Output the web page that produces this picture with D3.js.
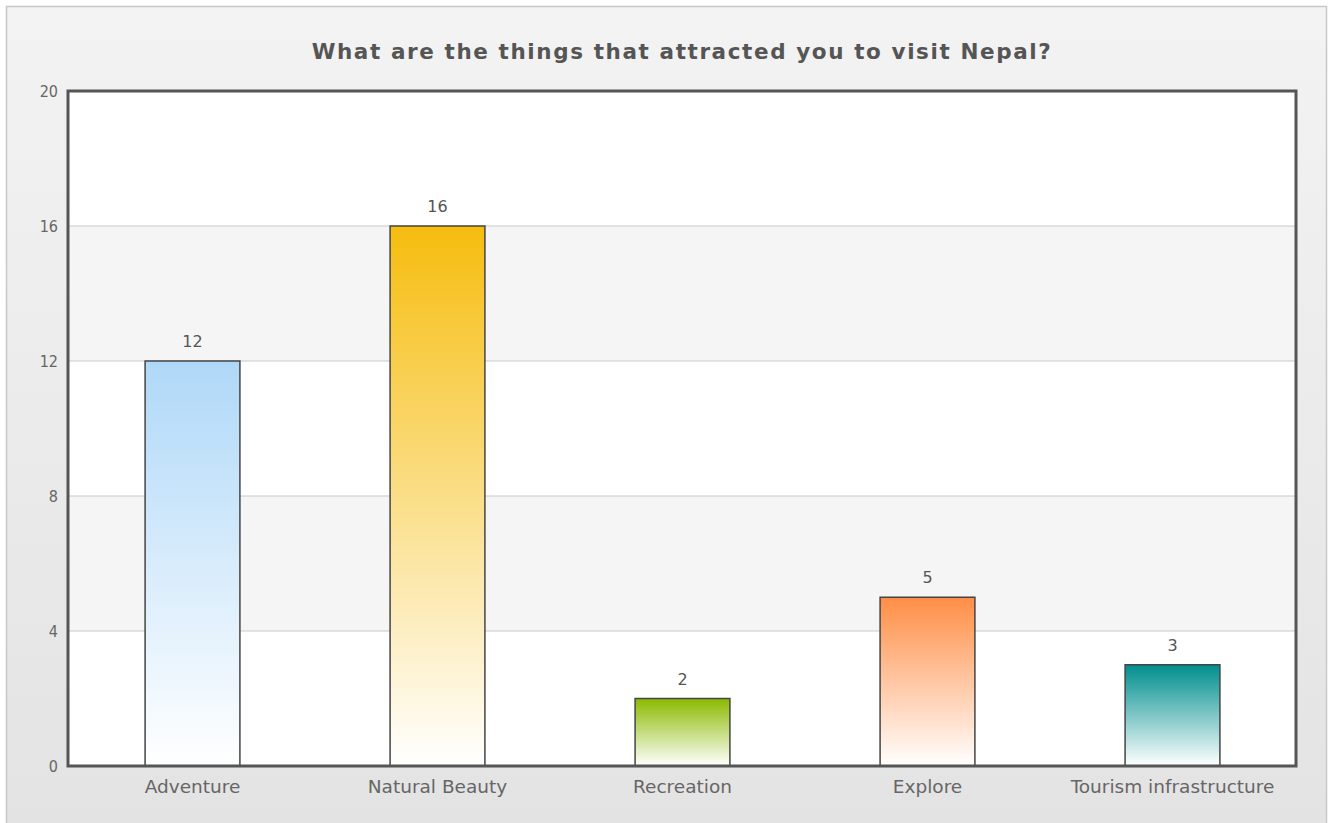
<!DOCTYPE html>
<html>
<head>
<meta charset="utf-8">
<script src="https://cdn.jsdelivr.net/npm/d3@7"></script>
<style>
  html, body { margin: 0; padding: 0; background: #ffffff; }
  svg { display: block; }
</style>
</head>
<body>
<svg id="chart" width="1332" height="823"></svg>
<script>
// Survey answers: reasons for visiting Nepal
const categories = ["Adventure", "Natural Beauty", "Recreation", "Explore", "Tourism infrastructure"];
const responses = [12, 16, 2, 5, 3];
const barColors = ["#AFD8F8", "#F6BD0F", "#8BBA00", "#FF8E46", "#008E8E"];
const yTicks = [0, 4, 8, 12, 16, 20];
const chartTitle = "What are the things that attracted you to visit Nepal?";

const W = 1332, H = 823;
const plot = { left: 68, top: 91, right: 1296, bottom: 766 };

const svg = d3.select("#chart");
const defs = svg.append("defs");

// panel background gradient
const bg = defs.append("linearGradient").attr("id", "bgGrad")
  .attr("x1", 0).attr("y1", 0).attr("x2", 0).attr("y2", 1);
bg.append("stop").attr("offset", "0%").attr("stop-color", "#f3f3f3");
bg.append("stop").attr("offset", "100%").attr("stop-color", "#e3e3e3");

svg.append("rect").attr("x", 0).attr("y", 0).attr("width", W).attr("height", H).attr("fill", "#ffffff");
svg.append("rect")
  .attr("x", 6.5).attr("y", 6.5).attr("width", 1320).attr("height", H)
  .attr("fill", "url(#bgGrad)").attr("stroke", "#c8c8c8").attr("stroke-width", 1.5);

// title
svg.append("text")
  .attr("x", 682).attr("y", 59)
  .attr("text-anchor", "middle")
  .attr("font-family", "'DejaVu Sans', Verdana, sans-serif")
  .attr("font-weight", "bold").attr("font-size", 21.5)
  .attr("letter-spacing", 1.6)
  .attr("fill", "#555555")
  .text(chartTitle);

const x = d3.scaleBand().domain(categories).range([70, 1295]).paddingInner(0.613).paddingOuter(0.3065);
const y = d3.scaleLinear().domain([0, 20]).range([plot.bottom, plot.top]);

// alternating horizontal bands
const g = svg.append("g");
g.append("rect").attr("x", plot.left).attr("y", plot.top)
  .attr("width", plot.right - plot.left).attr("height", plot.bottom - plot.top).attr("fill", "#ffffff");
for (let i = 0; i < yTicks.length - 1; i++) {
  if (i % 2 === 1) {
    g.append("rect")
      .attr("x", plot.left).attr("y", y(yTicks[i + 1]))
      .attr("width", plot.right - plot.left)
      .attr("height", y(yTicks[i]) - y(yTicks[i + 1]))
      .attr("fill", "#f5f5f5");
  }
}

// grid lines
g.selectAll("line.grid").data(yTicks.slice(1, -1)).join("line")
  .attr("class", "grid")
  .attr("x1", plot.left).attr("x2", plot.right)
  .attr("y1", d => y(d)).attr("y2", d => y(d))
  .attr("stroke", "#c9c9c9").attr("stroke-width", 1);

// bar gradients
barColors.forEach((c, i) => {
  const lg = defs.append("linearGradient").attr("id", "barGrad" + i)
    .attr("x1", 0).attr("y1", 0).attr("x2", 0).attr("y2", 1);
  lg.append("stop").attr("offset", "0%").attr("stop-color", c);
  lg.append("stop").attr("offset", "100%").attr("stop-color", "#ffffff");
});

// bars
const data = categories.map((c, i) => ({ cat: c, val: responses[i], idx: i }));
g.selectAll("rect.bar").data(data).join("rect")
  .attr("class", "bar")
  .attr("x", d => x(d.cat)).attr("width", x.bandwidth())
  .attr("y", d => y(d.val)).attr("height", d => y(0) - y(d.val))
  .attr("fill", d => `url(#barGrad${d.idx})`)
  .attr("stroke", "#454545").attr("stroke-width", 1.5);

// value labels
g.selectAll("text.val").data(data).join("text")
  .attr("class", "val")
  .attr("x", d => x(d.cat) + x.bandwidth() / 2)
  .attr("y", d => y(d.val) - 14)
  .attr("text-anchor", "middle")
  .attr("font-family", "'DejaVu Sans', Verdana, sans-serif")
  .attr("font-size", 16).attr("fill", "#555555")
  .text(d => d.val);

// plot border
svg.append("rect")
  .attr("x", plot.left).attr("y", plot.top)
  .attr("width", plot.right - plot.left).attr("height", plot.bottom - plot.top)
  .attr("fill", "none").attr("stroke", "#555555").attr("stroke-width", 3);

// y axis ticks (labels only)
const yAxis = d3.axisLeft(y).tickValues(yTicks).tickSize(0).tickPadding(10);
const ya = svg.append("g").attr("transform", `translate(${plot.left},0)`).call(yAxis);
ya.select(".domain").remove();
ya.selectAll("text")
  .attr("font-family", "'DejaVu Sans Condensed', 'DejaVu Sans', sans-serif")
  .attr("font-size", 16).attr("fill", "#666666");

// x axis labels
const xAxis = d3.axisBottom(x).tickSize(0).tickPadding(14);
const xa = svg.append("g").attr("transform", `translate(0,${plot.bottom})`).call(xAxis);
xa.select(".domain").remove();
xa.selectAll("text")
  .attr("font-family", "'DejaVu Sans', Verdana, sans-serif")
  .attr("font-size", 18.5).attr("fill", "#666666");
</script>
</body>
</html>
